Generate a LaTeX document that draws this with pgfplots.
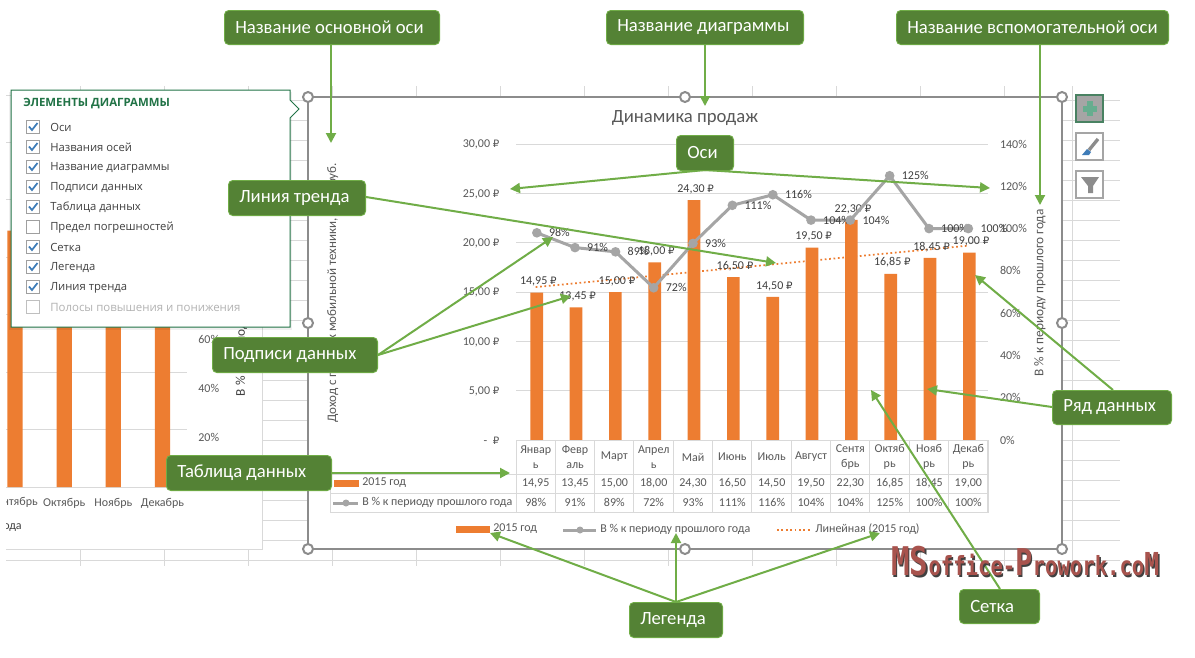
\documentclass[border=0pt]{standalone}
\usepackage{fontspec}
\usepackage{graphicx}
\usepackage{pgfplots}
\pgfplotsset{compat=1.18}
\usetikzlibrary{arrows.meta}
\setmainfont{Carlito}
\newfontfamily\menufont{Open Sans}
\newfontfamily\wmfont{DejaVu Sans Mono}
\newfontfamily\rubf[Scale=0.85]{DejaVu Sans}
\newcommand{\rub}{{\rubf ₽}}
\definecolor{barc}{HTML}{ED7D31}
\definecolor{linec}{HTML}{A5A5A5}
\definecolor{gridc}{HTML}{D9D9D9}
\definecolor{txt}{HTML}{404040}
\definecolor{tickc}{HTML}{595959}
\definecolor{boxf}{HTML}{548235}
\definecolor{boxb}{HTML}{70AD47}
\definecolor{frame}{HTML}{8C8C8C}
\definecolor{menug}{HTML}{217346}
\definecolor{checkb}{HTML}{3E7CB8}
\definecolor{wm}{HTML}{A8534D}
\definecolor{plusc}{HTML}{66AD8F}
\newcommand{\fs}{\fontsize{9}{11.25}\selectfont}
\newcommand{\callout}[5]{\fill[boxb,rounded corners=3.5pt] (#1,#2) rectangle (#3,#4);
  \fill[boxf,rounded corners=3pt] (#1+1,#2+1) rectangle (#3-1,#4-1);
  \node[anchor=west,text=white,inner sep=0pt,font=\fontsize{14}{16}\selectfont] at (#1+11,{(#2+#4)/2}) {#5};}
\newcommand{\wmtext}{\resizebox{201pt}{22pt}{\wmfont\bfseries {\fontsize{15}{15}\selectfont MS}office-{\fontsize{14}{14}\selectfont P}rowork.co{\fontsize{12}{12}\selectfont M}}}
\tikzset{garrow/.style={boxb,line width=1.5pt,-{Triangle[length=7.5pt,width=7.5pt]}}}
\pgfplotsset{panel/.style={scale only axis,clip=false,axis line style={draw=none},major tick length=0pt,
  tick style={draw=none},ticklabel style={font=\fs,text=tickc}}}
\begin{document}
\begin{tikzpicture}[x=0.75pt,y=-0.75pt]
\path (0,0) rectangle (1195,657);
% sheet
\foreach \v in {80,164,...,1004} {\draw[gridc] (\v,86)--(\v,97); \draw[gridc] (\v,549)--(\v,566);}
\draw[gridc] (1072,86)--(1072,566);
\draw[gridc] (6,560)--(1120,560);
\foreach \r in {100,120,...,540} {\draw[gridc] (262,\r)--(308,\r); \draw[gridc] (1062,\r)--(1120,\r);}
% left chart (behind)
\fill[white] (6,95) rectangle (262,549);
\draw[gridc] (6,95)--(262,95)--(262,549)--(6,549);
\begin{scope}
\clip (6,90) rectangle (262,549);
\begin{axis}[panel,at={(6*0.75pt,-487*0.75pt)},anchor=south west,width=135.75pt,height=258.75pt,
  xmin=7.816,xmax=11.5,ymin=0,ymax=30,
  xtick={9,10,11},xticklabels={Октябрь,Ноябрь,Декабрь},xticklabel style={yshift=-5pt},
  ytick={0,5,...,30},yticklabels={},ymajorgrids,grid style={gridc,line width=0.75pt}]
\addplot[ybar,fill=barc,draw=none,bar width=11.5pt,bar shift=0pt] coordinates {(8,22.3)(9,16.85)(10,18.45)(11,19)};
\end{axis}
\begin{axis}[panel,at={(6*0.75pt,-487*0.75pt)},anchor=south west,width=135.75pt,height=258.75pt,
  xmin=7.816,xmax=11.5,ymin=0,ymax=140,xtick=\empty,
  ytick={20,40,60,80,100,120,140},yticklabels={20\%,40\%,60\%,80\%,100\%,120\%,140\%},yticklabel pos=right,
  yticklabel style={anchor=west,xshift=5pt},
  ylabel={В \% к периоду прошлого года},ylabel style={at={(axis description cs:1.3,0.505)},anchor=center,font=\fontsize{10}{12}\selectfont,text=txt}]
\addplot[draw=none] coordinates {(8,0)};
\end{axis}
\node[anchor=east,inner sep=0pt,font=\fs,text=tickc] at (38,502) {нтябрь};
\node[anchor=east,inner sep=0pt,font=\fs,text=txt] at (22,528) {ода};
\end{scope}
% main chart panel
\fill[white] (308,97) rectangle (1062,549);
\draw[frame,line width=1pt] (308,97) rectangle (1062,549);
% main axes
\begin{axis}[panel,at={(516*0.75pt,-440*0.75pt)},anchor=south west,width=354pt,height=222pt,
  xmin=-0.5,xmax=11.5,ymin=0,ymax=30,xtick=\empty,
  every axis title shift=0pt,
  title={Динамика продаж},title style={at={(axis description cs:0.358,1.088)},anchor=center,font=\fontsize{14}{16}\selectfont,text=tickc},
  ylabel={Доход с продаж мобильной техники, млн. руб.},ylabel style={at={(axis description cs:-0.388,0.497)},anchor=center,font=\fontsize{9.75}{12}\selectfont,text=tickc},
  ytick={0,5,10,15,20,25,30},
  yticklabels={-\ \ \rub,{5,00 \rub},{10,00 \rub},{15,00 \rub},{20,00 \rub},{25,00 \rub},{30,00 \rub}},
  yticklabel style={anchor=east,xshift=-9pt,yshift=-0.5pt},
  ymajorgrids,grid style={gridc,line width=0.75pt}]
\addplot[ybar,fill=barc,draw=none,bar width=9.5pt,bar shift=0.75pt,
  point meta=explicit symbolic,nodes near coords,
  every node near coord/.append style={font=\fs,text=txt,anchor=south,yshift=4.5pt,xshift=2pt,inner sep=0pt}]
  coordinates {(0,14.95) [14,95 \rub] (1,13.45) [13,45 \rub] (2,15.00) [15,00 \rub] (3,18.00) [18,00 \rub] (4,24.30) [24,30 \rub] (5,16.50) [16,50 \rub]
  (6,14.50) [14,50 \rub] (7,19.50) [19,50 \rub] (8,22.30) [22,30 \rub] (9,16.85) [16,85 \rub] (10,18.45) [18,45 \rub] (11,19.00) [19,00 \rub]};
\addplot[barc,line width=1.3pt,dotted] coordinates {(0,15.5)(11,19.7)};
\end{axis}
\begin{axis}[panel,at={(516*0.75pt,-440*0.75pt)},anchor=south west,width=354pt,height=222pt,
  xmin=-0.5,xmax=11.5,ymin=0,ymax=140,xtick=\empty,
  ytick={0,20,...,140},yticklabels={0\%,20\%,40\%,60\%,80\%,100\%,120\%,140\%},yticklabel pos=right,
  yticklabel style={anchor=west,xshift=5.5pt},
  ylabel={В \% к периоду прошлого года},ylabel style={at={(axis description cs:1.11,0.497)},anchor=center,font=\fontsize{10}{12}\selectfont,text=tickc}]
\addplot[linec,line width=2.25pt,mark=*,mark size=2.4pt,mark options={fill=linec,draw=linec},
  point meta=explicit symbolic,nodes near coords,
  every node near coord/.append style={font=\fs,text=txt,anchor=west,xshift=8pt,yshift=0pt,inner sep=0pt}]
  coordinates {(0.03,98) [98\%] (1,91) [91\%] (2.03,89) [89\%] (3,72) [72\%] (4,93) [93\%] (5,111) [111\%] (6.03,116) [116\%]
  (7,104) [104\%] (8,104) [104\%] (9,125) [125\%] (10,100) [100\%] (11,100) [100\%]};
\end{axis}
% data table
\draw[gridc,line width=0.75pt] (516,440) rectangle (988,474);
\draw[gridc,line width=0.75pt] (330,474) rectangle (988,512);
\draw[gridc,line width=0.75pt] (330,493)--(988,493);
\foreach \i in {0,...,12} {\draw[gridc,line width=0.75pt] ({516+\i*39.33},440)--({516+\i*39.33},512);}
\foreach \m [count=\k from 0] in {{Январ\\ь},{Февр\\аль},{Март},{Апрел\\ь},{Май},{Июнь},{Июль},{Август},{Сентя\\брь},{Октяб\\рь},{Нояб\\рь},{Декаб\\рь}}
  {\node[align=center,inner sep=0pt,font=\fs,text=tickc] at ({535.7+\k*39.33},457) {\m};}
\foreach \m [count=\k from 0] in {{14,95},{13,45},{15,00},{18,00},{24,30},{16,50},{14,50},{19,50},{22,30},{16,85},{18,45},{19,00}}
  {\node[inner sep=0pt,font=\fs,text=tickc] at ({535.7+\k*39.33},483.5) {\m};}
\foreach \m [count=\k from 0] in {98,91,89,72,93,111,116,104,104,125,100,100}
  {\node[inner sep=0pt,font=\fs,text=tickc] at ({535.7+\k*39.33},502.5) {\m\%};}
\fill[barc] (334,480) rectangle (359,487);
\node[anchor=west,inner sep=0pt,font=\fs,text=tickc] at (362,483) {2015 год};
\draw[linec,line width=2.25pt] (333,503)--(358,503); \fill[linec] (346,503) circle (3.5);
\node[anchor=west,inner sep=0pt,font=\fs,text=tickc] at (362,502) {В \% к периоду прошлого года};
% legend
\fill[barc] (456,526) rectangle (490,533);
\node[anchor=west,inner sep=0pt,font=\fs,text=tickc] at (493,529) {2015 год};
\draw[linec,line width=2.25pt] (563,530)--(596,530); \fill[linec] (580,530) circle (3.5);
\node[anchor=west,inner sep=0pt,font=\fs,text=tickc] at (600,529) {В \% к периоду прошлого года};
\draw[barc,line width=1.3pt,dotted] (777,530)--(811,530);
\node[anchor=west,inner sep=0pt,font=\fs,text=tickc] at (815,529) {Линейная (2015 год)};
% tools
\fill[linec] (1076,95) rectangle (1103,122);
\draw[menug!70!linec,line width=1pt] (1076,95) rectangle (1103,122);
\fill[plusc] (1087,101) rectangle (1093,116);
\fill[plusc] (1083,105.5) rectangle (1097,111.5);
\fill[white] (1076,133) rectangle (1103,160); \draw[linec,line width=1pt] (1076,133) rectangle (1103,160);
\draw[gray!90,line width=2.5pt] (1098,139)--(1089,150);
\fill[checkb] (1082,155) -- (1087,149) -- (1091,152) -- (1089,155) -- cycle;
\fill[white] (1076,171) rectangle (1103,198); \draw[linec,line width=1pt] (1076,171) rectangle (1103,198);
\fill[gray!90] (1081,177)--(1099,177)--(1093,186)--(1093,193)--(1088,193)--(1088,186)--cycle;
% menu
\fill[black,opacity=0.06] (9,92) rectangle (292,330);
\filldraw[draw=menug,fill=white,line width=0.75pt] (11,90)--(290,90)--(290,100)--(299,109)--(290,118)--(290,327)--(11,327)--cycle;
\node[anchor=west,inner sep=0pt,text=menug,font=\menufont\bfseries\fontsize{8.55}{10}\selectfont] at (23,104) {ЭЛЕМЕНТЫ ДИАГРАММЫ};
\foreach \t/\c [count=\k from 0] in {Оси/1,Названия осей/1,Название диаграммы/1,Подписи данных/1,Таблица данных/1,Предел погрешностей/0,Сетка/1,Легенда/1,Линия тренда/1}{
  \draw[gray!75,line width=0.75pt] (26.5,{120+20*\k}) rectangle (39.5,{133+20*\k});
  \ifnum\c=1 \draw[checkb,line width=1.3pt] (29,{126.5+20*\k})--(32,{130+20*\k})--(37.5,{123+20*\k}); \fi
  \node[anchor=west,inner sep=0pt,text=txt,font=\menufont\fontsize{8.45}{10}\selectfont] at (50,{127.5+20*\k}) {\t};
}
\draw[gray!50,line width=0.75pt] (26.5,300) rectangle (39.5,313);
\node[anchor=west,inner sep=0pt,text=gray!60,font=\menufont\fontsize{8.6}{10}\selectfont] at (50,307.5) {Полосы повышения и понижения};
% handles
\foreach \p/\q in {308/97,685/97,1062/97,308/323,1062/323,308/549,685/549,1062/549}
  {\filldraw[draw=frame,fill=white,line width=1.5pt] (\p,\q) circle (5);}
% arrows
\draw[garrow] (331,45)--(331,143);
\draw[garrow] (705,45)--(705,106);
\draw[garrow] (1040,45)--(1040,205);
\draw[garrow] (705,170)--(510,189);
\draw[garrow] (705,170)--(990,188);
\draw[garrow] (366,197)--(776,263);
\draw[garrow] (378,355)--(553,237);
\draw[garrow] (378,355)--(571,296);
\draw[garrow] (332,473)--(510,473);
\draw[garrow] (1113,390)--(975,275);
\draw[garrow] (1052,407)--(927,389);
\draw[garrow] (676,602)--(490,533);
\draw[garrow] (676,602)--(676,533);
\draw[garrow] (676,602)--(880,533);
\draw[garrow] (1000,589)--(871,390);
% callouts
\callout{224}{10}{440}{45}{Название основной оси}
\callout{606}{10}{804}{45}{Название диаграммы}
\callout{896}{10}{1169}{45}{Название вспомогательной оси}
\callout{676}{135}{734}{171}{Оси}
\callout{228}{180}{366}{216}{Линия тренда}
\callout{212}{337}{378}{373}{Подписи данных}
\callout{166}{455}{332}{491}{Таблица данных}
\callout{1052}{390}{1172}{425}{Ряд данных}
\callout{629}{602}{723}{638}{Легенда}
\callout{959}{589}{1040}{624}{Сетка}
% watermark
\node[anchor=west,inner sep=0pt,text=black!75] at (892.5,563) {\wmtext};
\node[anchor=west,inner sep=0pt,text=wm] at (891,561.5) {\wmtext};
\end{tikzpicture}
\end{document}
